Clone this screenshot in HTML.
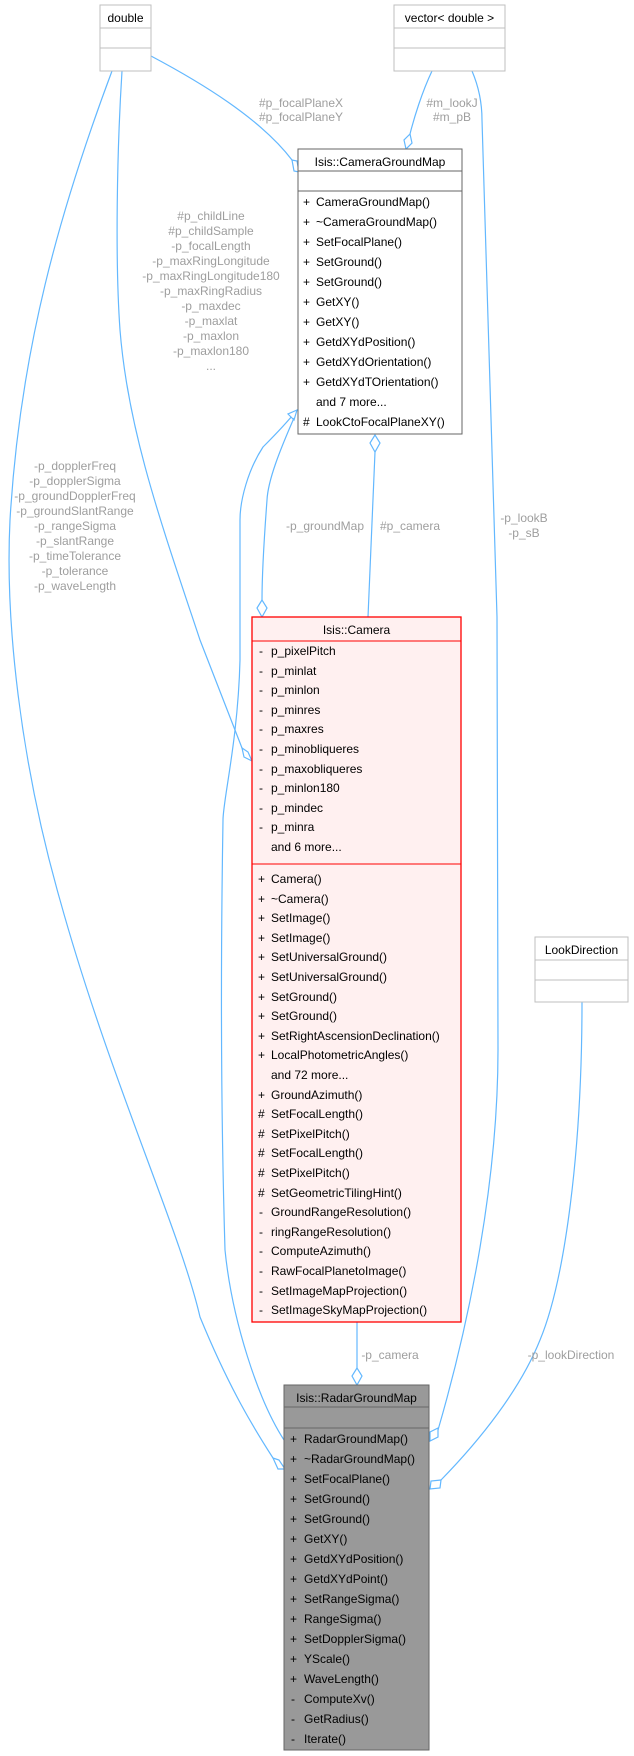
<!DOCTYPE html>
<html><head><meta charset="utf-8"><style>
html,body{margin:0;padding:0;background:#fff;}
svg{display:block;font-family:"Liberation Sans",Arial,sans-serif;}
.t{font-size:12px;fill:#000;}
.l{font-size:12px;fill:#9e9e9e;}
.e{fill:none;stroke:#63b8ff;stroke-width:1.2;}
.d{fill:#fff;stroke:#63b8ff;stroke-width:1.2;}
</style></head><body>
<svg width="634" height="1756" viewBox="0 0 634 1756" xmlns="http://www.w3.org/2000/svg">
<!-- edges -->
<path class="e" d="M151,56 C200,82 260,118 292,160"/>
<path class="d" d="M292,160 L294,171 L299,172 L297,161 Z"/>
<path class="e" d="M432,71 C422,92 414,118 410,134"/>
<path class="d" d="M410,134 L404,140 L406,149 L412,143 Z"/>
<path class="e" d="M472,71 C478,85 482,100 482,120 L497,617 L498,1050 C498,1180 470,1320 438,1430"/>
<path class="d" d="M438,1428 L430,1432 L430,1441 L438,1437 Z"/>
<path class="e" d="M582,1002 C582,1150 565,1280 540,1340 C520,1390 480,1440 441,1480"/>
<path class="d" d="M441,1480 L431,1481 L430,1489 L440,1488 Z"/>
<path class="e" d="M112,71 C60,210 20,350 10,520 C5,620 20,760 60,900 C110,1080 180,1230 200,1317 C230,1390 255,1430 273,1458"/>
<path class="d" d="M273,1458 L278,1469 L285,1469 L279,1460 Z"/>
<path class="e" d="M122,71 C117,150 115,260 120,330 C128,430 160,520 200,640 L242,748"/>
<path class="d" d="M242,748 L244,757 L252,761 L248,752 Z"/>
<path class="e" d="M297,410 C285,425 270,440 263,447 C248,470 240,500 240,520 L240,660 C238,740 223,800 223,820 C220,1000 222,1150 225,1250 C232,1320 258,1400 284,1440"/>
<path class="d" d="M297,410 L288,414 L294,420 Z"/>
<path class="e" d="M294,418 C280,450 268,480 267,500 C264,540 262,570 262,600"/>
<path class="d" d="M262,600 L257,608 L262,617 L267,608 Z"/>
<path class="e" d="M375,452 L368,617"/>
<path class="d" d="M375,435 L370,443 L375,452 L380,443 Z"/>
<path class="e" d="M357,1322 L357,1368"/>
<path class="d" d="M357,1368 L352,1376 L357,1385 L362,1376 Z"/>

<!-- labels -->
<g class="l" text-anchor="middle">
<text x="301" y="107">#p_focalPlaneX</text><text x="301" y="121">#p_focalPlaneY</text>
<text x="452" y="107">#m_lookJ</text><text x="452" y="121">#m_pB</text>
<text x="211" y="220">#p_childLine</text>
<text x="211" y="235">#p_childSample</text>
<text x="211" y="250">-p_focalLength</text>
<text x="211" y="265">-p_maxRingLongitude</text>
<text x="211" y="280">-p_maxRingLongitude180</text>
<text x="211" y="295">-p_maxRingRadius</text>
<text x="211" y="310">-p_maxdec</text>
<text x="211" y="325">-p_maxlat</text>
<text x="211" y="340">-p_maxlon</text>
<text x="211" y="355">-p_maxlon180</text>
<text x="211" y="370">...</text>
<text x="75" y="470">-p_dopplerFreq</text>
<text x="75" y="485">-p_dopplerSigma</text>
<text x="75" y="500">-p_groundDopplerFreq</text>
<text x="75" y="515">-p_groundSlantRange</text>
<text x="75" y="530">-p_rangeSigma</text>
<text x="75" y="545">-p_slantRange</text>
<text x="75" y="560">-p_timeTolerance</text>
<text x="75" y="575">-p_tolerance</text>
<text x="75" y="590">-p_waveLength</text>
<text x="325" y="530">-p_groundMap</text>
<text x="410" y="530">#p_camera</text>
<text x="524" y="522">-p_lookB</text><text x="524" y="537">-p_sB</text>
<text x="390" y="1359">-p_camera</text>
<text x="571" y="1359">-p_lookDirection</text>
</g>

<!-- double -->
<rect x="100" y="5" width="51" height="66" fill="#fff" stroke="#bfbfbf"/>
<line x1="100" y1="28" x2="151" y2="28" stroke="#bfbfbf"/><line x1="100" y1="48" x2="151" y2="48" stroke="#bfbfbf"/>
<text class="t" x="125.5" y="22" text-anchor="middle">double</text>
<!-- vector -->
<rect x="394" y="5" width="111" height="66" fill="#fff" stroke="#bfbfbf"/>
<line x1="394" y1="28" x2="505" y2="28" stroke="#bfbfbf"/><line x1="394" y1="48" x2="505" y2="48" stroke="#bfbfbf"/>
<text class="t" x="449.5" y="22" text-anchor="middle">vector&lt; double &gt;</text>
<!-- LookDirection -->
<rect x="535" y="937" width="93" height="65" fill="#fff" stroke="#bfbfbf"/>
<line x1="535" y1="960" x2="628" y2="960" stroke="#bfbfbf"/><line x1="535" y1="980" x2="628" y2="980" stroke="#bfbfbf"/>
<text class="t" x="581.5" y="954" text-anchor="middle">LookDirection</text>

<!-- CameraGroundMap -->
<rect x="298" y="149" width="164" height="285" fill="#fff" stroke="#666"/>
<line x1="298" y1="171" x2="462" y2="171" stroke="#666"/><line x1="298" y1="191" x2="462" y2="191" stroke="#666"/>
<text class="t" x="380" y="166" text-anchor="middle">Isis::CameraGroundMap</text>
<g class="t">
<text x="303" y="206">+</text><text x="316" y="206">CameraGroundMap()</text>
<text x="303" y="226">+</text><text x="316" y="226">~CameraGroundMap()</text>
<text x="303" y="246">+</text><text x="316" y="246">SetFocalPlane()</text>
<text x="303" y="266">+</text><text x="316" y="266">SetGround()</text>
<text x="303" y="286">+</text><text x="316" y="286">SetGround()</text>
<text x="303" y="306">+</text><text x="316" y="306">GetXY()</text>
<text x="303" y="326">+</text><text x="316" y="326">GetXY()</text>
<text x="303" y="346">+</text><text x="316" y="346">GetdXYdPosition()</text>
<text x="303" y="366">+</text><text x="316" y="366">GetdXYdOrientation()</text>
<text x="303" y="386">+</text><text x="316" y="386">GetdXYdTOrientation()</text>
<text x="316" y="406">and 7 more...</text>
<text x="303" y="426">#</text><text x="316" y="426">LookCtoFocalPlaneXY()</text>
</g>

<!-- Camera -->
<rect x="252" y="617" width="209" height="705" fill="#fff0f0" stroke="#ff0000" stroke-width="1.3"/>
<line x1="252" y1="641" x2="461" y2="641" stroke="#ff0000"/>
<line x1="252" y1="864" x2="461" y2="864" stroke="#ff0000"/>
<text class="t" x="356.5" y="634" text-anchor="middle">Isis::Camera</text>
<g class="t">
<text x="259" y="655">-</text><text x="271" y="655">p_pixelPitch</text>
<text x="259" y="675">-</text><text x="271" y="675">p_minlat</text>
<text x="259" y="694">-</text><text x="271" y="694">p_minlon</text>
<text x="259" y="714">-</text><text x="271" y="714">p_minres</text>
<text x="259" y="733">-</text><text x="271" y="733">p_maxres</text>
<text x="259" y="753">-</text><text x="271" y="753">p_minobliqueres</text>
<text x="259" y="773">-</text><text x="271" y="773">p_maxobliqueres</text>
<text x="259" y="792">-</text><text x="271" y="792">p_minlon180</text>
<text x="259" y="812">-</text><text x="271" y="812">p_mindec</text>
<text x="259" y="831">-</text><text x="271" y="831">p_minra</text>
<text x="271" y="851">and 6 more...</text>
<text x="258" y="883">+</text><text x="271" y="883">Camera()</text>
<text x="258" y="903">+</text><text x="271" y="903">~Camera()</text>
<text x="258" y="922">+</text><text x="271" y="922">SetImage()</text>
<text x="258" y="942">+</text><text x="271" y="942">SetImage()</text>
<text x="258" y="961">+</text><text x="271" y="961">SetUniversalGround()</text>
<text x="258" y="981">+</text><text x="271" y="981">SetUniversalGround()</text>
<text x="258" y="1001">+</text><text x="271" y="1001">SetGround()</text>
<text x="258" y="1020">+</text><text x="271" y="1020">SetGround()</text>
<text x="258" y="1040">+</text><text x="271" y="1040">SetRightAscensionDeclination()</text>
<text x="258" y="1059">+</text><text x="271" y="1059">LocalPhotometricAngles()</text>
<text x="271" y="1079">and 72 more...</text>
<text x="258" y="1099">+</text><text x="271" y="1099">GroundAzimuth()</text>
<text x="258" y="1118">#</text><text x="271" y="1118">SetFocalLength()</text>
<text x="258" y="1138">#</text><text x="271" y="1138">SetPixelPitch()</text>
<text x="258" y="1157">#</text><text x="271" y="1157">SetFocalLength()</text>
<text x="258" y="1177">#</text><text x="271" y="1177">SetPixelPitch()</text>
<text x="258" y="1197">#</text><text x="271" y="1197">SetGeometricTilingHint()</text>
<text x="259" y="1216">-</text><text x="271" y="1216">GroundRangeResolution()</text>
<text x="259" y="1236">-</text><text x="271" y="1236">ringRangeResolution()</text>
<text x="259" y="1255">-</text><text x="271" y="1255">ComputeAzimuth()</text>
<text x="259" y="1275">-</text><text x="271" y="1275">RawFocalPlanetoImage()</text>
<text x="259" y="1295">-</text><text x="271" y="1295">SetImageMapProjection()</text>
<text x="259" y="1314">-</text><text x="271" y="1314">SetImageSkyMapProjection()</text>
</g>

<!-- RadarGroundMap -->
<rect x="284" y="1385" width="145" height="365" fill="#999" stroke="#666"/>
<line x1="284" y1="1407" x2="429" y2="1407" stroke="#666"/><line x1="284" y1="1428" x2="429" y2="1428" stroke="#666"/>
<text class="t" x="356.5" y="1402" text-anchor="middle">Isis::RadarGroundMap</text>
<g class="t">
<text x="290" y="1443">+</text><text x="304" y="1443">RadarGroundMap()</text>
<text x="290" y="1463">+</text><text x="304" y="1463">~RadarGroundMap()</text>
<text x="290" y="1483">+</text><text x="304" y="1483">SetFocalPlane()</text>
<text x="290" y="1503">+</text><text x="304" y="1503">SetGround()</text>
<text x="290" y="1523">+</text><text x="304" y="1523">SetGround()</text>
<text x="290" y="1543">+</text><text x="304" y="1543">GetXY()</text>
<text x="290" y="1563">+</text><text x="304" y="1563">GetdXYdPosition()</text>
<text x="290" y="1583">+</text><text x="304" y="1583">GetdXYdPoint()</text>
<text x="290" y="1603">+</text><text x="304" y="1603">SetRangeSigma()</text>
<text x="290" y="1623">+</text><text x="304" y="1623">RangeSigma()</text>
<text x="290" y="1643">+</text><text x="304" y="1643">SetDopplerSigma()</text>
<text x="290" y="1663">+</text><text x="304" y="1663">YScale()</text>
<text x="290" y="1683">+</text><text x="304" y="1683">WaveLength()</text>
<text x="291" y="1703">-</text><text x="304" y="1703">ComputeXv()</text>
<text x="291" y="1723">-</text><text x="304" y="1723">GetRadius()</text>
<text x="291" y="1743">-</text><text x="304" y="1743">Iterate()</text>
</g>
</svg>
</body></html>
